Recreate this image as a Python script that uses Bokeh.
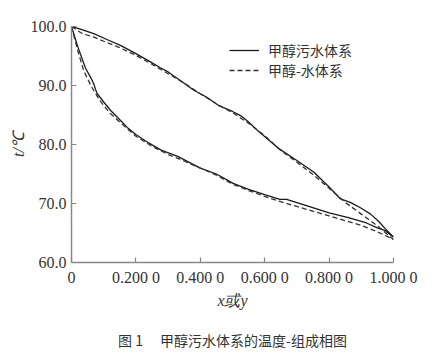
from bokeh.plotting import figure
from bokeh.models import Legend, LegendItem, FixedTicker, Title
from bokeh.embed import file_html
from bokeh.resources import INLINE

# Solid: methanol wastewater system (liquid / vapour branches)
ww_liq_x = [0.0, 0.02, 0.043, 0.06, 0.069, 0.075, 0.08, 0.10, 0.121, 0.15, 0.173, 0.20, 0.23, 0.28,
            0.33, 0.40, 0.45, 0.502, 0.55, 0.60, 0.647, 0.668, 0.72, 0.80, 0.86, 0.916, 0.948, 0.975, 1.0]
ww_liq_t = [100.0, 96.5, 93.0, 91.3, 90.3, 89.3, 88.6, 87.2, 85.8, 84.2, 82.9, 81.7, 80.6, 79.0,
            78.0, 76.0, 75.0, 73.4, 72.4, 71.5, 70.7, 70.7, 69.8, 68.4, 67.6, 66.7, 65.9, 65.4, 64.3]
ww_vap_x = [0.0, 0.03, 0.069, 0.11, 0.152, 0.20, 0.245, 0.276, 0.30, 0.339, 0.38, 0.42, 0.457, 0.50,
            0.525, 0.55, 0.577, 0.618, 0.644, 0.70, 0.753, 0.80, 0.835, 0.866, 0.90, 0.929, 0.955, 0.975, 1.0]
ww_vap_t = [100.0, 99.5, 98.8, 97.8, 96.8, 95.4, 94.0, 93.0, 92.3, 90.8, 89.2, 88.0, 86.6, 85.6,
            84.9, 83.8, 82.4, 80.5, 79.3, 77.3, 75.3, 72.8, 70.8, 70.2, 69.2, 68.2, 66.9, 65.7, 64.3]

# Dashed: methanol-water system
mw_liq_x = [0.0, 0.02, 0.038, 0.06, 0.085, 0.10, 0.12, 0.15, 0.20, 0.25, 0.30, 0.35, 0.40, 0.45,
            0.50, 0.55, 0.60, 0.65, 0.70, 0.80, 0.90, 0.95, 1.0]
mw_liq_t = [100.0, 95.8, 92.5, 90.0, 87.7, 86.6, 85.3, 83.8, 81.4, 79.7, 78.3, 77.2, 76.0, 74.8,
            73.3, 72.2, 71.2, 70.3, 69.5, 67.9, 66.3, 65.2, 63.9]
mw_vap_x = [0.0, 0.033, 0.07, 0.10, 0.15, 0.20, 0.25, 0.30, 0.35, 0.40, 0.45, 0.50, 0.55, 0.60,
            0.65, 0.70, 0.75, 0.80, 0.85, 0.90, 0.95, 1.0]
mw_vap_t = [100.0, 98.8, 98.2, 97.5, 96.4, 95.1, 93.6, 92.0, 90.4, 88.6, 86.9, 85.4, 83.6, 81.5,
            79.0, 77.0, 74.9, 72.6, 70.2, 68.2, 66.2, 63.9]

x_ticks = [0.0, 0.2, 0.4, 0.6, 0.8, 1.0]
x_tick_labels = ["0", "0.200 0", "0.400 0", "0.600 0", "0.800 0", "1.000 0"]
y_ticks = [60, 70, 80, 90, 100]
y_tick_labels = ["60.0", "70.0", "80.0", "90.0", "100.0"]
series_names = ["甲醇污水体系", "甲醇-水体系"]
x_title = "x或y"
y_title = "t/℃"
caption = "图 1　 甲醇污水体系的温度-组成相图"

W, H = 432, 354
FL, FR, FT, FB = 71, 393, 26, 262

p = figure(width=W, height=H, x_range=(0, 1), y_range=(60, 100),
           output_backend="svg", toolbar_location=None,
           min_border_left=FL, min_border_right=W - FR,
           min_border_top=FT, min_border_bottom=H - FB)
p.outline_line_color = None
p.grid.visible = False
p.background_fill_color = "white"
p.border_fill_color = "white"

col = "#1a1a1a"
r1 = p.line(ww_liq_x, ww_liq_t, line_color=col, line_width=1.3)
p.line(ww_vap_x, ww_vap_t, line_color=col, line_width=1.3)
r2 = p.line(mw_liq_x, mw_liq_t, line_color="#333333", line_width=1.3, line_dash="5 3")
p.line(mw_vap_x, mw_vap_t, line_color="#333333", line_width=1.3, line_dash="5 3")

axis_col = "#888888"
for ax in (p.xaxis[0], p.yaxis[0]):
    ax.axis_line_color = axis_col
    ax.axis_line_width = 1.5
    ax.major_tick_line_color = axis_col
    ax.major_tick_line_width = 1.2
    ax.major_tick_in = 5
    ax.major_tick_out = 0
    ax.minor_tick_line_color = None
    ax.major_label_text_font = "Liberation Serif"
    ax.major_label_text_font_size = "16px"
    ax.major_label_text_color = "#333333"
    ax.axis_label_text_font = "Liberation Serif"
    ax.axis_label_text_font_size = "16px"
    ax.axis_label_text_font_style = "italic"
    ax.axis_label_text_color = "#333333"

p.xaxis.ticker = FixedTicker(ticks=x_ticks)
p.xaxis.major_label_overrides = {t: l for t, l in zip(x_ticks, x_tick_labels)}
p.xaxis.major_label_standoff = 6
p.xaxis.axis_label = x_title
p.xaxis.axis_label_standoff = 3
p.yaxis.ticker = FixedTicker(ticks=y_ticks)
p.yaxis.major_label_overrides = {t: l for t, l in zip(y_ticks, y_tick_labels)}
p.yaxis.major_label_standoff = 5
p.yaxis.axis_label = y_title
p.yaxis.axis_label_standoff = 1

legend = Legend(items=[LegendItem(label=series_names[0], renderers=[r1]),
                       LegendItem(label=series_names[1], renderers=[r2])],
                location=(158, 182), orientation="vertical",
                label_text_font="Noto Sans CJK SC", label_text_font_size="14px",
                label_text_color="#333333",
                glyph_width=30, glyph_height=20, label_standoff=9, label_height=20,
                spacing=0, padding=0, margin=0,
                border_line_color=None, background_fill_alpha=0)
p.add_layout(legend)

p.add_layout(Title(text=" ", text_font_size="12px", standoff=0, offset=0), "below")
p.add_layout(Title(text=caption, align="center", text_font="Noto Sans CJK SC",
                   text_font_size="14px", text_font_style="normal",
                   text_color="#333333", standoff=0), "below")

open("out.html", "w").write(file_html(p, INLINE))
